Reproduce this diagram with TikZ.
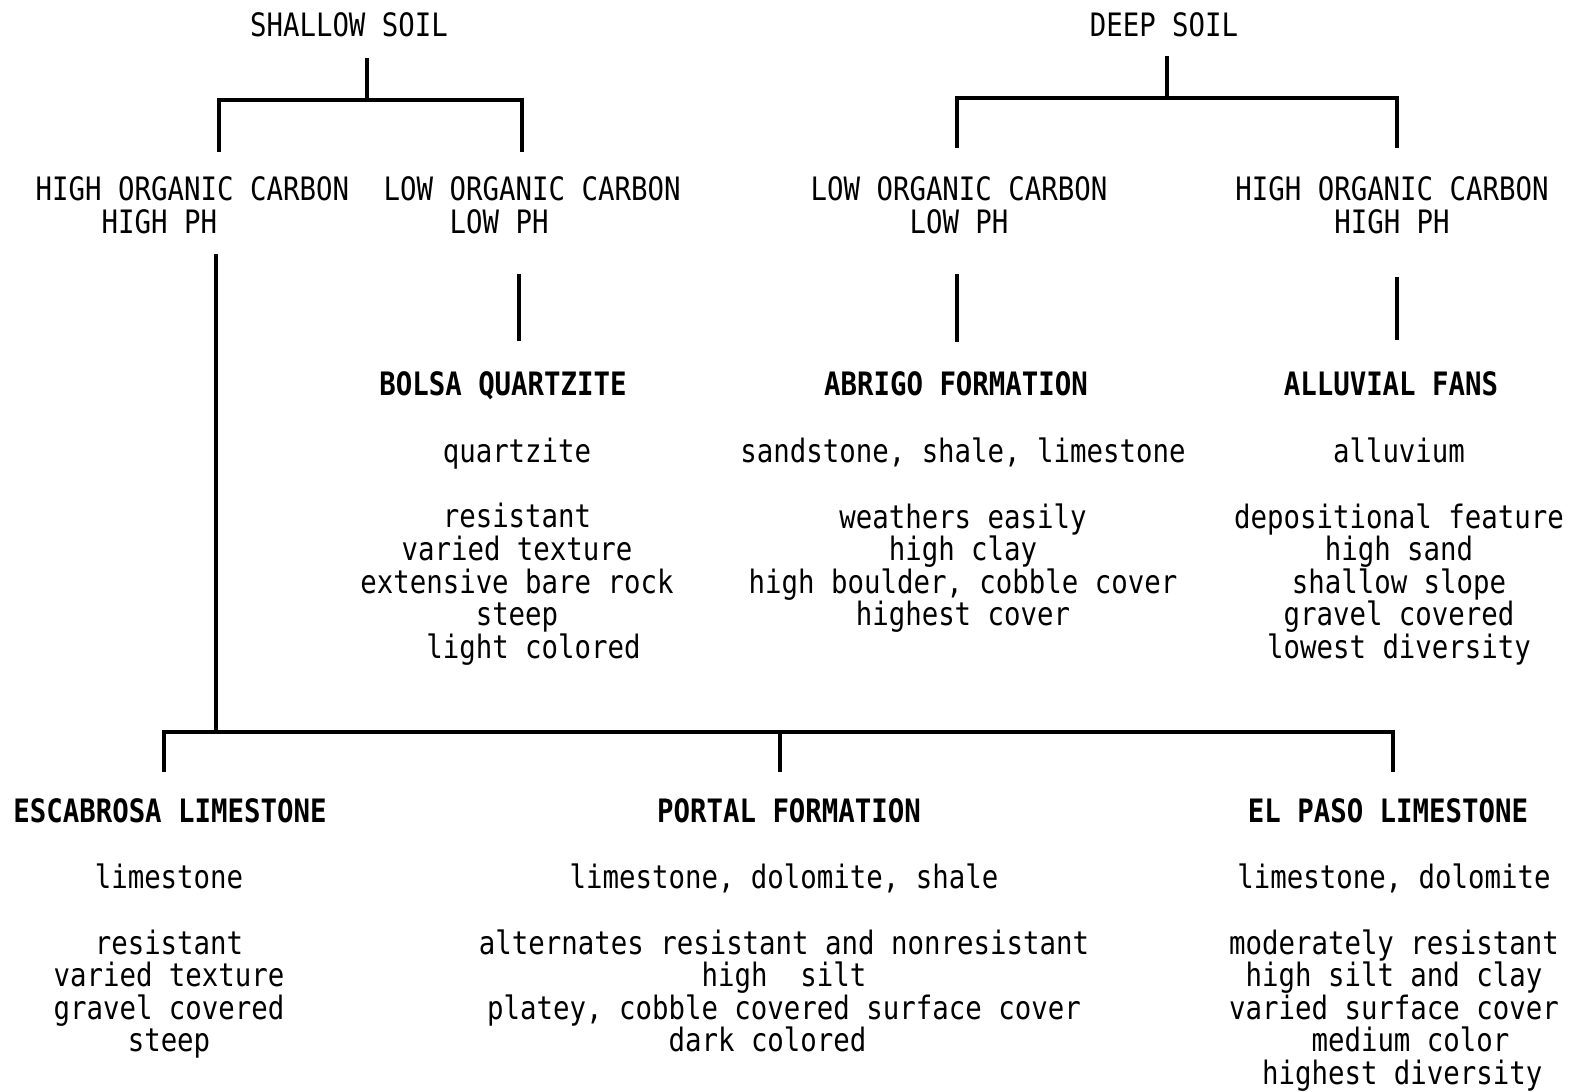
\documentclass[tikz,border=0pt]{standalone}
\usepackage{fontspec}
\newfontfamily\typed[FakeStretch=0.85]{DejaVu Sans Mono}
\usetikzlibrary{calc}
\newcommand\ind[1]{\hspace*{#1\fontcharwd\font`M}}

\begin{document}
\begin{tikzpicture}[
  txt/.style={inner sep=0pt, font=\typed\fontsize{9.17pt}{9.28pt}\selectfont},
  soil/.style={txt, anchor=base},
  carbon/.style={txt, anchor=north, align=center},
  unit/.style={txt, anchor=base, font=\typed\bfseries\fontsize{9.17pt}{9.28pt}\selectfont},
  desc/.style={txt, anchor=north, align=center},
  branch/.style={line width=1.1pt}]
\useasboundingbox (0,0) rectangle (15.72,10.92);
% soil depth
\node[soil] (shallow) at (3.49,10.55) {SHALLOW SOIL};
\node[soil] (deep) at (11.64,10.55) {DEEP SOIL};
% carbon and ph
\node[carbon, anchor=north west, align=left] (hishal) at (0.35,9.16) {HIGH ORGANIC CARBON\\\ind{4}HIGH PH};
\node[carbon, anchor=north west, align=left] (losh) at (3.83,9.16) {LOW ORGANIC CARBON\\\ind{4}LOW PH};
\node[carbon] (lodeep) at (9.59,9.16) {LOW ORGANIC CARBON\\LOW PH};
\node[carbon] (hideep) at (13.92,9.16) {HIGH ORGANIC CARBON\\HIGH PH};
% formations
\node[unit] (bolsa) at (5.03,6.96) {BOLSA QUARTZITE};
\node[unit] (abrigo) at (9.56,6.96) {ABRIGO FORMATION};
\node[unit] (fans) at (13.91,6.96) {ALLUVIAL FANS};
\node[unit] (escab) at (1.70,2.69) {ESCABROSA LIMESTONE};
\node[unit] (portal) at (7.89,2.69) {PORTAL FORMATION};
\node[unit] (elpaso) at (13.88,2.69) {EL PASO LIMESTONE};
% descriptions
\node[desc] (bolsatxt) at (5.17,6.545) {quartzite\\[\baselineskip]resistant\\varied texture\\extensive bare rock\\steep\\\ind{2}light colored};
\node[desc] (abrigotxt) at (9.63,6.545) {sandstone, shale, limestone\\[\baselineskip]weathers easily\\high clay\ind{2}\\high boulder, cobble cover\\highest cover};
\node[desc] (fanstxt) at (13.99,6.545) {alluvium\\[\baselineskip]depositional feature\\high sand\\shallow slope\\gravel covered\\lowest diversity};
\node[desc] (escabtxt) at (1.69,2.285) {limestone\\[\baselineskip]resistant\\varied texture\\gravel covered\\steep};
\node[desc] (portaltxt) at (7.84,2.285) {limestone, dolomite, shale\\[\baselineskip]alternates resistant and nonresistant\\high\ind{2}silt\ind{2}\\platey, cobble covered surface cover\\dark colored\ind{2}};
\node[desc] (elpasotxt) at (13.94,2.285) {limestone, dolomite\\[\baselineskip]moderately resistant\\high silt and clay\\varied surface cover\\\ind{2}medium color\\\ind{1}highest diversity};
% branches
\coordinate (sjoin) at (3.67,9.92);
\coordinate (djoin) at (11.67,9.94);
\coordinate (bjoin) at (2.16,3.60);
\coordinate (s1) at (2.19,9.40);
\coordinate (s2) at (5.22,9.40);
\coordinate (d1) at (9.57,9.44);
\coordinate (d2) at (13.97,9.44);
\coordinate (bq) at (5.19,0);
\coordinate (ab) at (9.57,0);
\coordinate (af) at (13.97,0);
\coordinate (ex1) at (1.64,0);
\coordinate (ex2) at (7.80,0);
\coordinate (ex3) at (13.93,0);
\draw[branch] ($(shallow.south -| sjoin)+(0,-0.20)$) -- (sjoin);
\draw[branch] (s1) |- (sjoin) -| (s2);
\draw[branch] ($(deep.south -| djoin)+(0,-0.18)$) -- (djoin);
\draw[branch] (d1) |- (djoin) -| (d2);
\draw[branch] ($(losh.south -| bq)+(0,-0.40)$) -- ($(bolsa.north -| bq)+(0,0.30)$);
\draw[branch] ($(lodeep.south -| ab)+(0,-0.40)$) -- ($(abrigo.north -| ab)+(0,0.29)$);
\draw[branch] ($(hideep.south -| af)+(0,-0.43)$) -- ($(fans.north -| af)+(0,0.31)$);
\draw[branch] ($(hishal.south -| bjoin)+(0,-0.20)$) -- (bjoin);
\draw[branch] ($(escab.north -| ex1)+(0,0.26)$) |- (bjoin) -| ($(elpaso.north -| ex3)+(0,0.26)$);
\draw[branch] ($(portal.north -| ex2)+(0,0.26)$) -- (ex2 |- bjoin);
\end{tikzpicture}
\end{document}
